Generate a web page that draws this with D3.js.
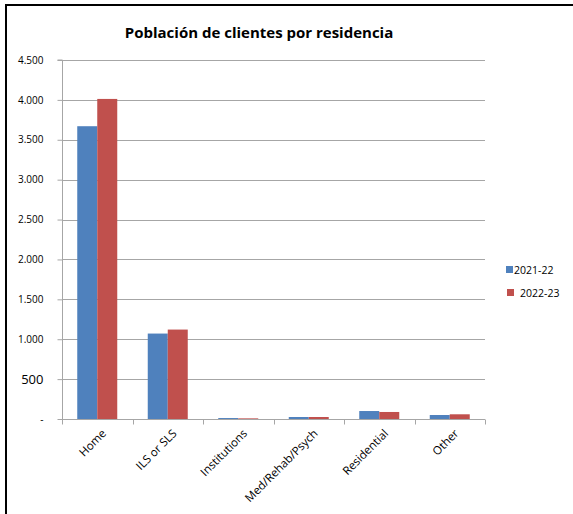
<!DOCTYPE html>
<html><head><meta charset="utf-8">
<script src="https://cdn.jsdelivr.net/npm/d3@7"></script>
<style>html,body{margin:0;background:#fff;overflow:hidden}svg{display:block}text{font-family:"Open Sans",sans-serif}</style>
</head><body><svg id="c" width="573" height="514"></svg>
<script>
const categories = ["Home","ILS or SLS","Institutions","Med/Rehab/Psych","Residential","Other"];
const seriesNames = ["2021-22","2022-23"];
const values2021 = [3670, 1071, 12, 25, 100, 50];
const values2022 = [4012, 1121, 8, 25, 88, 59];
const yTicks = [0,500,1000,1500,2000,2500,3000,3500,4000,4500];
const yTickLabels = ["-","500","1.000","1.500","2.000","2.500","3.000","3.500","4.000","4.500"];
const colors = ["#4F81BD","#C0504D"];

const svg = d3.select("#c");
// frame (only top and left edges fall inside the picture)
svg.append("path").attr("d","M6,514V5H573").attr("fill","none").attr("stroke","#000").attr("stroke-width",2);

const L=62,R=485,T=60,B=419;
const y = d3.scaleLinear().domain([0,4500]).range([B,T]);
const x = d3.scaleBand().domain(categories).range([L,R]).paddingInner(0).paddingOuter(0);
const inner = d3.scaleBand().domain(seriesNames).range([0,40]);
const groupOff = (x.bandwidth()-40)/2;

svg.append("text").attr("x",259).attr("y",38).attr("text-anchor","middle")
  .attr("font-size",15).attr("font-weight","bold").text("Población de clientes por residencia");

// gridlines
svg.append("g").selectAll("line").data(yTicks.filter(d=>d>0)).join("line")
  .attr("x1",L).attr("x2",R).attr("y1",d=>Math.round(y(d))+0.5).attr("y2",d=>Math.round(y(d))+0.5)
  .attr("stroke","#a6a6a6").attr("stroke-width",1);

// y axis
const ya = svg.append("g").attr("transform",`translate(${L+0.5},0)`)
  .call(d3.axisLeft(y).tickValues(yTicks).tickSize(5).tickFormat((d,i)=>yTickLabels[i]));
ya.select(".domain").attr("stroke","#a6a6a6").attr("d",`M-5,${T}H0V${B}`);
ya.selectAll(".tick line").attr("stroke","#a6a6a6");
ya.selectAll(".tick text").attr("x",-19).attr("font-size",d=>d===500?13:10).attr("fill","#000")
  .attr("font-family","'Open Sans',sans-serif");

// bars
const data = categories.map((c,i)=>({c, v:[values2021[i],values2022[i]]}));
const g = svg.append("g");
seriesNames.forEach((s,si)=>{
  g.selectAll(".b"+si).data(data).join("rect")
    .attr("x",d=>x(d.c)+groupOff+inner(s))
    .attr("width",inner.bandwidth())
    .attr("y",d=>y(d.v[si]))
    .attr("height",d=>B-y(d.v[si]))
    .attr("fill",colors[si]);
});

// x axis
const xa = svg.append("g").attr("transform",`translate(0,${B+0.5})`);
xa.append("line").attr("x1",L).attr("x2",R).attr("stroke","#a6a6a6");
xa.selectAll(".t").data(d3.range(categories.length+1)).join("line")
  .attr("x1",i=>Math.round(L+i*x.bandwidth())+0.5).attr("x2",i=>Math.round(L+i*x.bandwidth())+0.5)
  .attr("y1",0).attr("y2",5).attr("stroke","#a6a6a6");
xa.selectAll("text").data(categories).join("text")
  .attr("transform",d=>`translate(${x(d)+x.bandwidth()/2+4},${9}) rotate(-45)`)
  .attr("text-anchor","end").attr("dy","0.7em").attr("font-size",11.5).text(d=>d);

// legend
const lg = svg.append("g");
const legendPos = [{sx:506,sy:266,tx:514,ty:270},{sx:507,sy:289,tx:520,ty:293}];
seriesNames.forEach((s,i)=>{
  lg.append("rect").attr("x",legendPos[i].sx).attr("y",legendPos[i].sy).attr("width",7).attr("height",7).attr("fill",colors[i]);
  lg.append("text").attr("x",legendPos[i].tx).attr("y",legendPos[i].ty).attr("dy","0.35em").attr("font-size",10.5).text(s);
});
</script></body></html>
